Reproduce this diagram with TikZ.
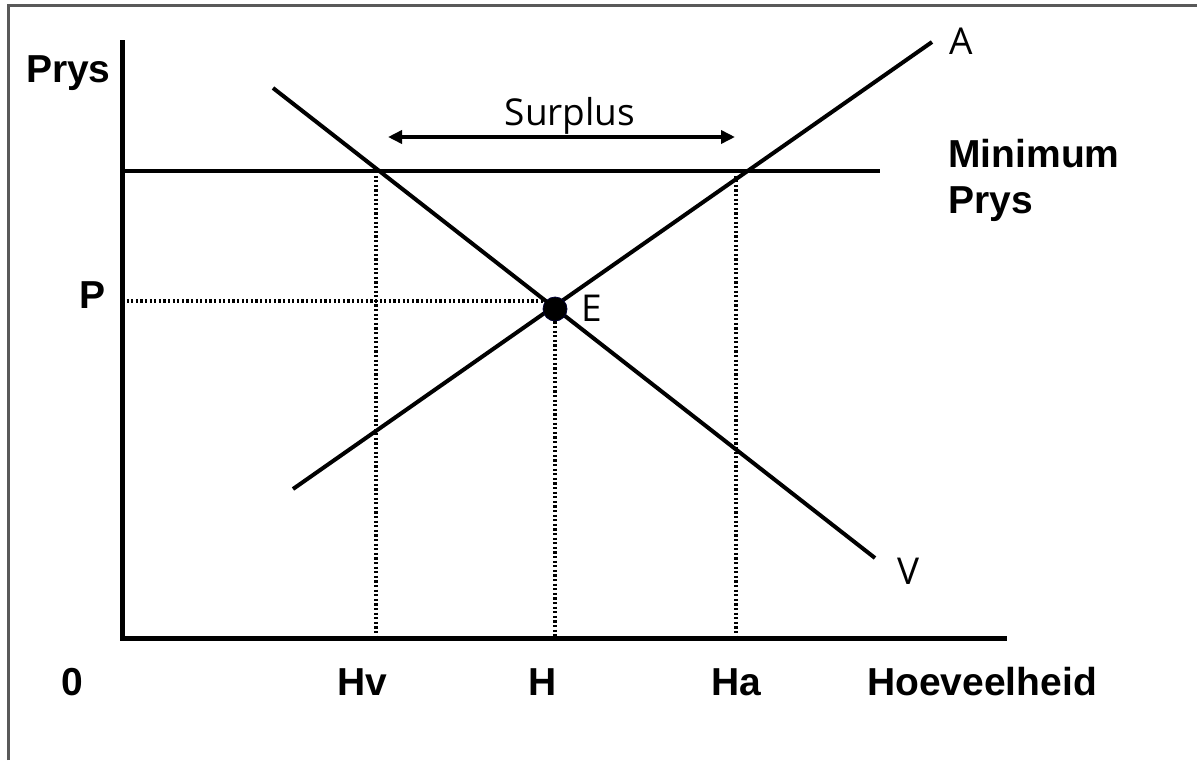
\documentclass[tikz,border=0pt]{standalone}
\usepackage{fontspec}
\setmainfont{Liberation Sans}
\newfontfamily\thinfont{Open Sans}
\usetikzlibrary{arrows.meta}

\begin{document}
\begin{tikzpicture}[x=0.5pt, y=-0.5pt, axis/.style = {line width=2.5pt}, curve/.style = {line width=2pt},
                        guide/.style = {line width=1.7pt, dash pattern=on 1.1pt off 1.2pt},
                        lbl/.style = {font=\fontsize{19.5}{23}\selectfont\bfseries, inner sep=0pt},
                        tag/.style = {font=\thinfont\fontsize{18.5}{20}\selectfont, inner sep=0pt}]

        \useasboundingbox (0,0) rectangle (1197,760);
        \draw[line width=1.5pt, black!65] (8,760) -- (8,5) -- (1197,5);

        \coordinate (o) at (122,638); \coordinate (ytop) at (122,40); \coordinate (xend) at (1007,638);
        \coordinate (m0) at (122,171); \coordinate (m1) at (880,171);
        \coordinate (v0) at (273,88); \coordinate (v1) at (875,558);
        \coordinate (a0) at (293,489); \coordinate (a1) at (932,42);
        \coordinate (hv) at (376,171); \coordinate (hv0) at (376,638);
        \coordinate (ha) at (736,171); \coordinate (ha0) at (736,638);
        \coordinate (h0) at (555,638); \coordinate (p0) at (122,301); \coordinate (p1) at (553,301);
        \coordinate (s0) at (388,137); \coordinate (s1) at (735,137);

        \draw[axis] (ytop) -- (o) -- (xend);
        \draw[curve] (m0) -- (m1);
        \draw[curve] (v0) -- (v1);
        \draw[curve] (a0) -- (a1);

        \node[circle, fill=black, draw=black!80!blue, inner sep=0pt, minimum size=12pt] (e) at (555,309) {};

        \draw[guide] (hv) -- (hv0); \draw[guide] (ha) -- (ha0); \draw[guide] (e.south) -- (h0); \draw[guide] (p0) -- (p1);
        \draw[{Triangle[length=7pt, width=6.5pt]}-{Triangle[length=7pt, width=6.5pt]}, line width=2pt] (s0) -- (s1);

        \node[tag, anchor=base] (surplus) at (570,125) {Surplus};
        \node[tag, anchor=base west] (la) at (949,54) {A};
        \node[tag, anchor=base west] (lv) at (897,584) {V};
        \node[tag, anchor=base west] (le) at (581,321) {E};

        \node[lbl, anchor=base east] (prys) at (111,82) {Prys};
        \node[lbl, anchor=north west, align=left] (minp) at (948,139) {Minimum\\Prys};
        \node[lbl, anchor=base east] (lp) at (106,308) {P};
        \node[lbl, anchor=base] (l0) at (72,695) {0};
        \node[lbl, anchor=base] (lhv) at (362,695) {Hv};
        \node[lbl, anchor=base] (lh) at (543,695) {H};
        \node[lbl, anchor=base] (lha) at (736,695) {Ha};
        \node[lbl, anchor=base] (lq) at (982,695) {Hoeveelheid};
    \end{tikzpicture}
\end{document}
